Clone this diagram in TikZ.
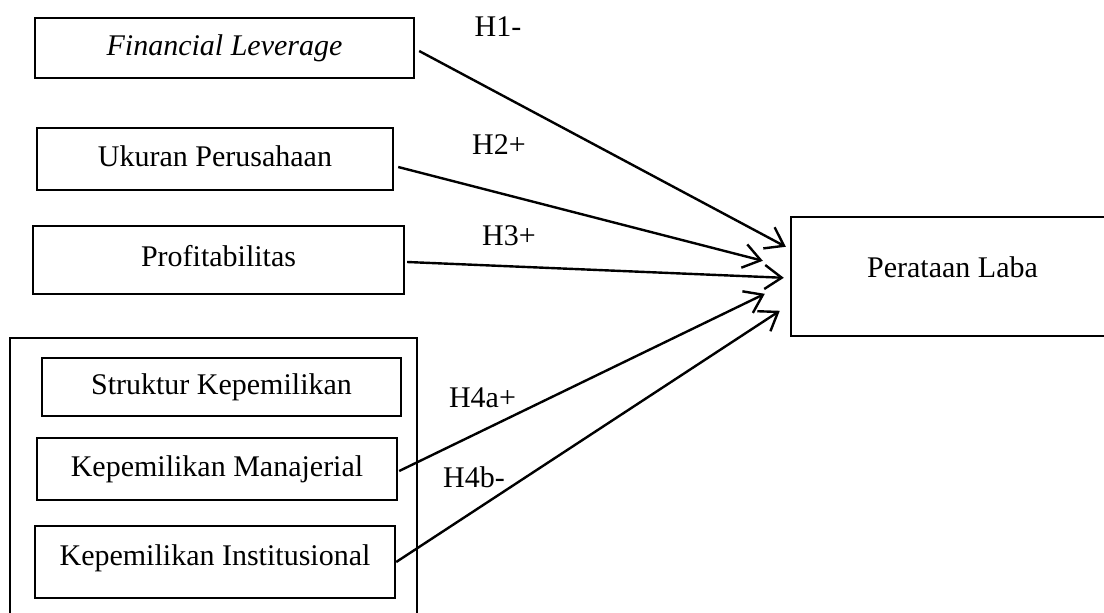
\documentclass[tikz,border=0pt]{standalone}
\usepackage{fontspec}
\setmainfont{Liberation Serif}
\usetikzlibrary{arrows.meta}
\begin{document}
\begin{tikzpicture}[x=1pt,y=-1pt,
  box/.style={draw, line width=2.4pt, inner sep=0pt, text height=20pt, text depth=6pt, font=\fontsize{30}{36}\selectfont},
  lab/.style={inner sep=0pt, anchor=base, font=\fontsize{30}{36}\selectfont},
  conn/.style={line width=2.4pt, -{Straight Barb[length=17pt,width=24pt]}}]
\useasboundingbox (0,0) rectangle (1104,613);
\clip (0,0) rectangle (1104,613);
% group box (cut off at the bottom)
\node[draw, line width=2.4pt, inner sep=0pt, minimum width=407pt, minimum height=300pt] (grp) at (213.5,488) {};
% boxes
\node[box, minimum width=379pt, minimum height=60pt] (fl) at (224.5,48) {\itshape Financial Leverage};
\node[box, minimum width=356pt, minimum height=62pt] (up) at (215,159) {Ukuran Perusahaan};
\node[box, minimum width=371pt, minimum height=68pt, text depth=8pt] (pr) at (218.5,260) {Profitabilitas};
\node[box, minimum width=359pt, minimum height=58pt] (sk) at (221.5,387) {Struktur Kepemilikan};
\node[box, minimum width=360pt, minimum height=62pt] (km) at (217,469) {Kepemilikan Manajerial};
\node[box, minimum width=360pt, minimum height=72pt, text depth=14pt] (ki) at (215,562) {Kepemilikan Institusional};
\node[box, minimum width=323pt, minimum height=119pt, text depth=18pt] (pl) at (952.5,276.5) {Perataan Laba};
% connectors
\draw[conn] ([shift={(4,3)}]fl.east) -- ([shift={(-4,31)}]pl.north west);
\draw[conn] ([shift={(4,8)}]up.east) -- ([shift={(-27,45)}]pl.north west);
\draw[conn] ([shift={(2,2)}]pr.east) -- ([shift={(-6,62)}]pl.north west);
\draw[conn] ([shift={(1,2)}]km.east) -- ([shift={(-25,78)}]pl.north west);
\draw[conn] (ki.east) -- ([shift={(-10,95)}]pl.north west);
% labels
\node[lab] (l1) at (498,36) {H1-};
\node[lab] (l2) at (499,154) {H2+};
\node[lab] (l3) at (509,245) {H3+};
\node[lab] (l4) at (482.5,407) {H4a+};
\node[lab] (l5) at (474,487) {H4b-};
\end{tikzpicture}
\end{document}
